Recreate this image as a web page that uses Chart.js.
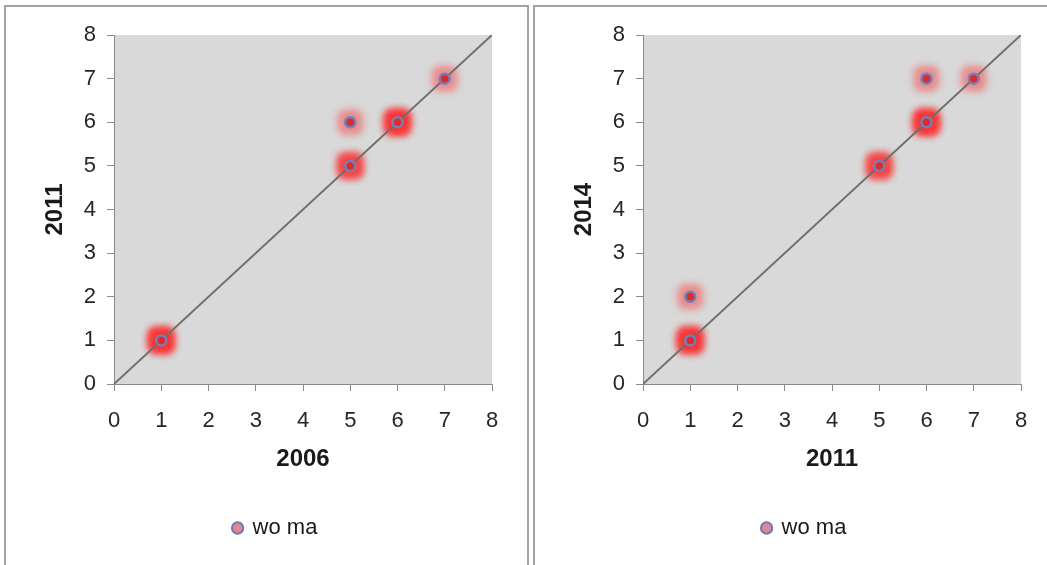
<!DOCTYPE html>
<html><head><meta charset="utf-8">
<script src="https://cdn.jsdelivr.net/npm/chart.js@4.4.1/dist/chart.umd.min.js"></script>
<style>
html,body{margin:0;padding:0;background:#fff;width:1047px;height:565px;overflow:hidden;position:relative;}
.panel{position:absolute;top:5px;height:620px;border:2px solid #a3a3a3;box-sizing:border-box;}
#p1{left:4px;width:525px;}
#p2{left:533px;width:600px;}
canvas{position:absolute;top:0;}
#c1{left:0;} #c2{left:529px;}
</style></head><body>
<div class="panel" id="p1"></div><div class="panel" id="p2"></div>
<canvas id="c1" width="530" height="565" style="width:530px;height:565px"></canvas>
<canvas id="c2" width="518" height="565" style="width:518px;height:565px"></canvas>
<script>
// ---- data ----
const axisTicks = [0, 1, 2, 3, 4, 5, 6, 7, 8];
const seriesName = 'wo ma';

const leftXTitle = '2006';
const leftYTitle = '2011';
const leftX = [1, 5, 5, 6, 7];
const leftY = [1, 5, 6, 6, 7];
const leftN = [4, 3, 1, 4, 1];   // overlapping observations (glow intensity)

const rightXTitle = '2011';
const rightYTitle = '2014';
const rightX = [1, 1, 5, 6, 6, 7];
const rightY = [1, 2, 5, 6, 7, 7];
const rightN = [4, 1, 3, 4, 1, 1];

const diagX = [0, 8];
const diagY = [0, 8];

// ---- drawing ----
const FONT = "'Liberation Sans', Arial, sans-serif";

const bgPlugin = {
  id: 'plotBg',
  beforeDraw(chart) {
    const a = chart.chartArea, c = chart.ctx;
    c.save();
    c.fillStyle = '#d9d9d9';
    c.fillRect(a.left, a.top, a.right - a.left, a.bottom - a.top);
    c.restore();
  }
};
const glowPlugin = {
  id: 'glow',
  beforeDatasetDraw(chart, args) {
    if (chart.data.datasets[args.index].isGlow) { chart.ctx.save(); chart.ctx.filter = 'blur(3.5px)'; }
  },
  afterDatasetDraw(chart, args) {
    if (chart.data.datasets[args.index].isGlow) { chart.ctx.restore(); }
  }
};

function pts(xs, ys) { return xs.map((x, i) => ({ x: x, y: ys[i] })); }
function glowPts(xs, ys, ns) {
  const out = [];
  xs.forEach((x, i) => { for (let k = 0; k < ns[i]; k++) out.push({ x: x, y: ys[i] }); });
  return out;
}

function makeChart(id, xs, ys, ns, xTitle, yTitle, padRight) {
  const tickFont = { family: FONT, size: 22 };
  const titleFont = { family: FONT, size: 24, weight: 'bold' };
  const gridCfg = { display: true, drawOnChartArea: false, drawTicks: true, tickLength: 7, color: '#8a8a8a', lineWidth: 1 };
  const borderCfg = { display: true, color: '#8a8a8a', width: 1 };
  const tickCb = (v) => axisTicks.includes(v) ? String(v) : '';
  return new Chart(document.getElementById(id), {
    type: 'scatter',
    data: {
      datasets: [
        {
          label: seriesName, data: pts(xs, ys), order: 0,
          pointStyle: 'circle', pointRadius: 5, pointBorderWidth: 2.5,
          backgroundColor: '#e02a2a', borderColor: '#7380b8'
        },
        {
          type: 'line', label: 'diag', data: pts(diagX, diagY), order: 1,
          borderColor: '#6e6e6e', borderWidth: 2, pointRadius: 0, fill: false
        },
        {
          label: 'glow', isGlow: true, data: glowPts(xs, ys, ns), order: 2,
          pointStyle: 'rectRounded', pointRadius: 15, pointBorderWidth: 0,
          backgroundColor: 'rgba(255,25,25,0.4)', borderColor: 'rgba(0,0,0,0)'
        }
      ]
    },
    options: {
      responsive: false, animation: false, events: [],
      layout: { padding: { left: 59, right: padRight, top: 35, bottom: 16 } },
      scales: {
        x: {
          type: 'linear', min: 0, max: 8,
          ticks: { stepSize: 1, color: '#262626', font: tickFont, padding: 17, maxRotation: 0, callback: tickCb },
          grid: gridCfg, border: borderCfg,
          title: { display: true, text: xTitle, color: '#1a1a1a', font: titleFont, padding: { top: 0, bottom: 33 } },
          afterFit(s) { s.height = 123; }
        },
        y: {
          type: 'linear', min: 0, max: 8,
          ticks: { stepSize: 1, color: '#262626', font: tickFont, padding: 11, callback: tickCb },
          grid: gridCfg, border: borderCfg,
          title: { display: true, text: yTitle, color: '#1a1a1a', font: titleFont, padding: { top: -18, bottom: 0 } },
          afterFit(s) { s.width = 55; }
        }
      },
      plugins: {
        tooltip: { enabled: false },
        legend: {
          position: 'bottom',
          labels: {
            usePointStyle: true, boxWidth: 8, boxHeight: 8, padding: 10,
            color: '#1a1a1a', font: { family: FONT, size: 22 },
            generateLabels: () => [{
              text: seriesName, fillStyle: '#e4868e', strokeStyle: '#6b7bbd', lineWidth: 2,
              pointStyle: 'circle', datasetIndex: 0, hidden: false, fontColor: '#1a1a1a'
            }]
          }
        }
      }
    },
    plugins: [bgPlugin, glowPlugin]
  });
}

makeChart('c1', leftX, leftY, leftN, leftXTitle, leftYTitle, 38);
makeChart('c2', rightX, rightY, rightN, rightXTitle, rightYTitle, 26);
</script>
</body></html>
